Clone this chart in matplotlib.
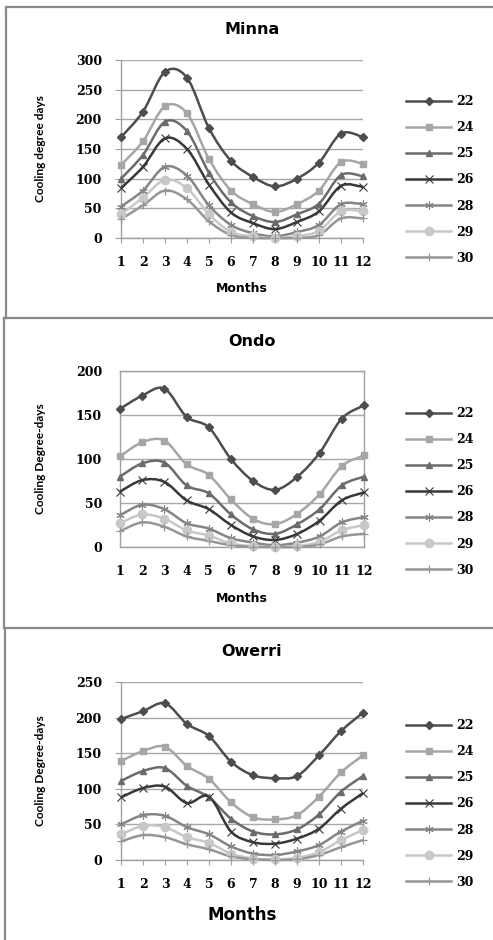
import matplotlib
matplotlib.use('Agg')
import matplotlib.pyplot as plt
import numpy as np
from matplotlib.lines import Line2D
from matplotlib.path import Path
from matplotlib.patches import PathPatch

months = list(range(1, 13))
base_temps = ['22', '24', '25', '26', '28', '29', '30']

# Minna
minna_22 = [170, 213, 280, 270, 185, 130, 103, 87, 100, 127, 176, 170]
minna_24 = [123, 163, 222, 210, 133, 80, 57, 44, 57, 80, 128, 125]
minna_25 = [100, 140, 196, 180, 110, 60, 37, 27, 40, 58, 106, 104]
minna_26 = [84, 120, 168, 150, 90, 43, 25, 15, 27, 45, 88, 86]
minna_28 = [53, 80, 120, 105, 55, 22, 8, 3, 10, 22, 57, 57]
minna_29 = [40, 68, 98, 84, 40, 10, 3, 0, 3, 12, 45, 45]
minna_30 = [32, 55, 80, 65, 28, 5, 0, 0, 0, 5, 33, 33]

# Ondo
ondo_22 = [157, 172, 180, 148, 136, 100, 75, 65, 80, 107, 146, 161]
ondo_24 = [103, 119, 121, 94, 82, 54, 32, 26, 38, 60, 92, 104]
ondo_25 = [80, 95, 96, 70, 61, 37, 20, 15, 26, 43, 70, 80]
ondo_26 = [63, 76, 74, 53, 43, 25, 12, 8, 15, 30, 53, 62]
ondo_28 = [36, 48, 43, 27, 21, 10, 5, 2, 5, 12, 28, 34]
ondo_29 = [27, 37, 32, 19, 13, 4, 1, 0, 1, 6, 19, 25]
ondo_30 = [18, 28, 23, 12, 7, 2, 0, 0, 0, 3, 12, 15]

# Owerri
owerri_22 = [198, 209, 220, 191, 174, 138, 119, 115, 118, 147, 181, 207]
owerri_24 = [139, 153, 159, 132, 114, 81, 60, 57, 63, 89, 123, 147]
owerri_25 = [111, 125, 129, 104, 88, 58, 40, 36, 43, 64, 96, 118]
owerri_26 = [88, 101, 103, 80, 89, 40, 25, 23, 30, 44, 72, 94]
owerri_28 = [50, 63, 62, 46, 36, 19, 9, 7, 12, 21, 40, 55]
owerri_29 = [36, 48, 46, 32, 24, 9, 2, 1, 3, 11, 28, 42]
owerri_30 = [26, 35, 32, 22, 15, 5, 1, 0, 1, 7, 18, 28]

colors = ['#4d4d4d', '#a6a6a6', '#6b6b6b', '#383838', '#858585', '#c8c8c8', '#969696']
markers = ['D', 's', '^', 'x', (6, 2, 0), 'o', '+']
msizes = [3.8, 5, 5, 5.5, 6, 6, 6]
mwidths = [1, 1, 1, 0.8, 0.8, 1, 0.9]

W, H = 493, 940
fig = plt.figure(figsize=(W / 100, H / 100), dpi=100)

def fx(px):
    return px / W

def fy(py):
    return 1 - py / H

def smooth_path(x, y):
    pts = np.column_stack([x, y]).astype(float)
    n = len(pts)
    verts = [pts[0]]
    codes = [Path.MOVETO]
    for i in range(n - 1):
        p0 = pts[max(i - 1, 0)]
        p1 = pts[i]
        p2 = pts[i + 1]
        p3 = pts[min(i + 2, n - 1)]
        verts += [p1 + (p2 - p0) / 6, p2 - (p3 - p1) / 6, p2]
        codes += [Path.CURVE4] * 3
    return Path(verts, codes)

def draw_panel(box, name, ylabel, ymax, series, boxed, label_size, leg_top):
    left, right, top, bottom, title_y, months_y = box
    ax = fig.add_axes([fx(left), fy(bottom), fx(right - left), (bottom - top) / H])
    for vals, c, m, ms, mw in zip(series, colors, markers, msizes, mwidths):
        ax.add_patch(PathPatch(smooth_path(months, vals), fill=False, edgecolor=c,
                               lw=1.8, clip_on=False, zorder=3))
        ax.plot(months, vals, ls='none', marker=m, ms=ms, color=c, mec=c, mew=mw,
                clip_on=False, zorder=4)
    ax.set_xlim(1, 12)
    ax.set_ylim(0, ymax)
    ax.set_xticks(months)
    ax.set_yticks(np.arange(0, ymax + 1, 50))
    ax.grid(axis='y', color='#a8a8a8', lw=1)
    ax.set_axisbelow(True)
    for s in ['top', 'right']:
        ax.spines[s].set_visible(boxed)
    for s in ax.spines.values():
        s.set_color('#a0a0a0')
        s.set_linewidth(1)
    if boxed:
        ax.tick_params(length=0, pad=13)
    else:
        ax.tick_params(axis='y', length=4.3, color='#a0a0a0', pad=9.5)
        ax.tick_params(axis='x', length=3.6, color='#a0a0a0', pad=9.5)
    for t in ax.get_xticklabels() + ax.get_yticklabels():
        t.set_fontfamily('DejaVu Serif')
        t.set_fontweight('bold')
        t.set_fontsize(9)
    ax.set_ylabel(ylabel, fontsize=8.6, fontweight='bold', family='Lato')
    ax.yaxis.set_label_coords((46 - left) / (right - left), 0.5)
    ax.text((252 - left) / (right - left), 1 + (top - title_y) / (bottom - top), name,
            transform=ax.transAxes, ha='center', va='center',
            fontsize=11.5, fontweight='bold')
    ax.text((242 - left) / (right - left), -(months_y - bottom) / (bottom - top), 'Months',
            transform=ax.transAxes, ha='center', va='center',
            fontsize=label_size, fontweight='bold')
    handles = [Line2D([], [], color=c, lw=1.8, marker=m, ms=ms, mec=c, mew=mw)
               for c, m, ms, mw in zip(colors, markers, msizes, mwidths)]
    ax.legend(handles, base_temps, loc='upper left', frameon=False,
              bbox_to_anchor=(fx(406), fy(leg_top)), bbox_transform=fig.transFigure,
              borderaxespad=0, borderpad=0, handlelength=3.6, handletextpad=0.4,
              labelspacing=1.05, numpoints=1,
              prop={'family': 'DejaVu Serif', 'weight': 'bold', 'size': 9})
    return ax

# box: left, right, top, bottom, title_y, months_y
draw_panel((121, 363, 60, 238, 30, 289), 'Minna', 'Cooling degree days', 300,
           [minna_22, minna_24, minna_25, minna_26, minna_28, minna_29, minna_30],
           False, 9, 95)
draw_panel((120, 364, 371, 547, 341, 599), 'Ondo', 'Cooling Degree-days', 200,
           [ondo_22, ondo_24, ondo_25, ondo_26, ondo_28, ondo_29, ondo_30],
           True, 9, 407)
draw_panel((121, 363, 682, 860, 652, 915), 'Owerri', 'Cooling Degree-days', 250,
           [owerri_22, owerri_24, owerri_25, owerri_26, owerri_28, owerri_29, owerri_30],
           False, 12, 719)

# panel frames
frame = dict(color='#8a8a8a', lw=1.6, transform=fig.transFigure)
for xs, ys in [((6, W), (7, 7)), ((6, 6), (7, 317.5)),
               ((4, W), (317.5, 317.5)), ((4, 4), (317.5, 627.5)),
               ((5, W), (627.5, 627.5)), ((5, 5), (627.5, H))]:
    fig.add_artist(Line2D([fx(v) for v in xs], [fy(v) for v in ys], **frame))

fig.savefig('out.png', dpi=100)
